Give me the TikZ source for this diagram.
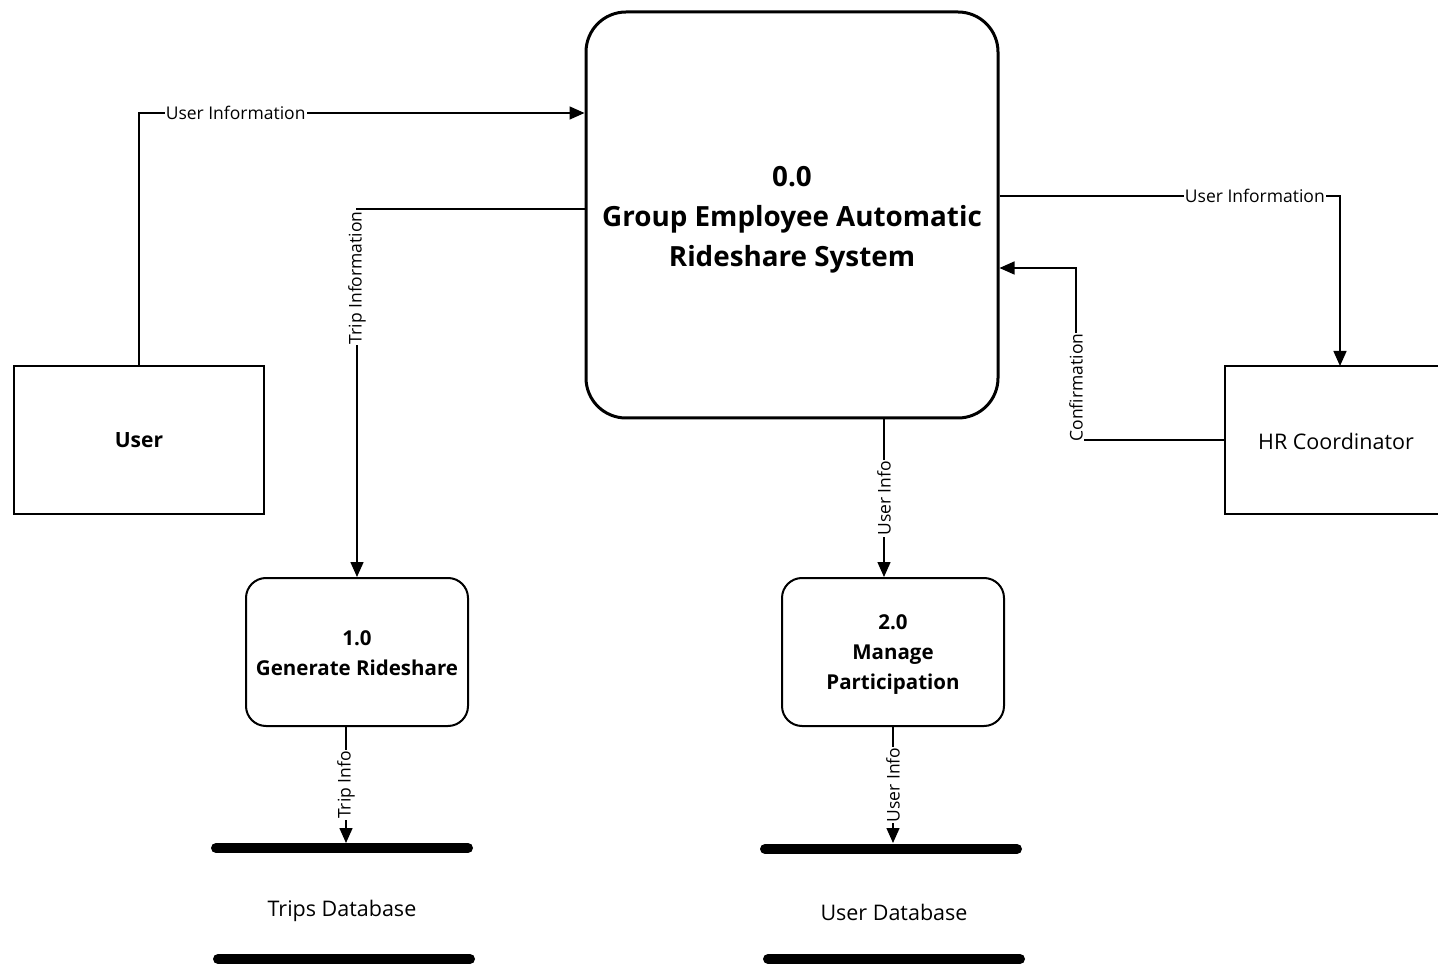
\documentclass[tikz,border=0pt]{standalone}
\usepackage{fontspec}
\setmainfont{Open Sans}
\usetikzlibrary{arrows.meta}
\begin{document}
\begin{tikzpicture}[x=1pt,y=-1pt,
  flow/.style={line width=1.5pt,-{Triangle[length=15pt,width=13pt]}},
  lbl/.style={fill=white,inner sep=1pt,font=\fontsize{17.5}{20}\selectfont},
  vlbl/.style={lbl,rotate=90},
  entity/.style={draw,line width=2.5pt,minimum width=250pt,minimum height=148pt,inner sep=0pt},
  proc/.style={draw,line width=2pt,rounded corners=20pt,minimum width=222pt,minimum height=148pt,align=center,font=\fontsize{20.5}{30}\selectfont\bfseries},
  proctext/.style={align=center,font=\fontsize{20.5}{30}\selectfont\bfseries},
  storebar/.style={line width=10pt,line cap=round},
  storetext/.style={font=\fontsize{21.5}{24}\selectfont}]
\useasboundingbox (0,0) rectangle (1438,965);

% central process
\node[draw,line width=3pt,rounded corners=40pt,minimum width=412pt,minimum height=406pt,inner sep=0pt] (sys) at (792,215) {};
\node[align=center,font=\fontsize{27.8}{40}\selectfont\bfseries] (systxt) at (792,219.5) {0.0\\Group Employee Automatic\\Rideshare System};

% external entities
\node[entity,font=\fontsize{21}{24}\selectfont\bfseries] (user) at (139,440) {User};
\node[entity,minimum width=226pt] (hr) at (1338,440) {};
\node[font=\fontsize{21.5}{24}\selectfont] (hrtxt) at (1336,441) {HR Coordinator};

% sub-processes
\node[proc] (p1) at (357,652) {};
\node[proctext] (p1txt) at (357,653) {1.0\\Generate Rideshare};
\node[proc] (p2) at (893,652) {};
\node[proctext] (p2txt) at (893,655) {2.0\\Manage\\Participation};

% data stores
\coordinate (t1a) at (216,848); \coordinate (t1b) at (468,848);
\coordinate (t2a) at (218,959); \coordinate (t2b) at (470,959);
\draw[storebar] (t1a) -- (t1b);
\draw[storebar] (t2a) -- (t2b);
\node[storetext] (tdb) at (342,911) {Trips Database};
\coordinate (u1a) at (765,849); \coordinate (u1b) at (1017,849);
\coordinate (u2a) at (768,959); \coordinate (u2b) at (1020,959);
\draw[storebar] (u1a) -- (u1b);
\draw[storebar] (u2a) -- (u2b);
\node[storetext] (udb) at (894,912) {User Database};
\coordinate (tdbtop) at (346,843);
\coordinate (udbtop) at (893,843);

% flows
\draw[flow] (user.north) -- (139,113) -- node[lbl,pos=0.217] {User Information} (sys.west |- 0,113);
\draw[flow] (sys.west |- 0,209) -- (357,209) -- node[vlbl,pos=0.187] {Trip Information} (p1.north);
\draw[flow] (sys.east |- 0,196) -- node[lbl,pos=0.75] {User Information} (1340,196) -- (1340,366);
\draw[flow] (hr.west |- 0,440) -- (1076,440) -- node[vlbl,pos=0.305] {Confirmation} (1076,268) -- (sys.east |- 0,268);
\draw[flow] (sys.south -| 884,0) -- node[vlbl,pos=0.5] {User Info} (p2.north -| 884,0);
\draw[flow] (p1.south -| 346,0) -- node[vlbl,pos=0.5] {Trip Info} (tdbtop);
\draw[flow] (p2.south) -- node[vlbl,pos=0.5] {User Info} (udbtop);
\end{tikzpicture}
\end{document}
